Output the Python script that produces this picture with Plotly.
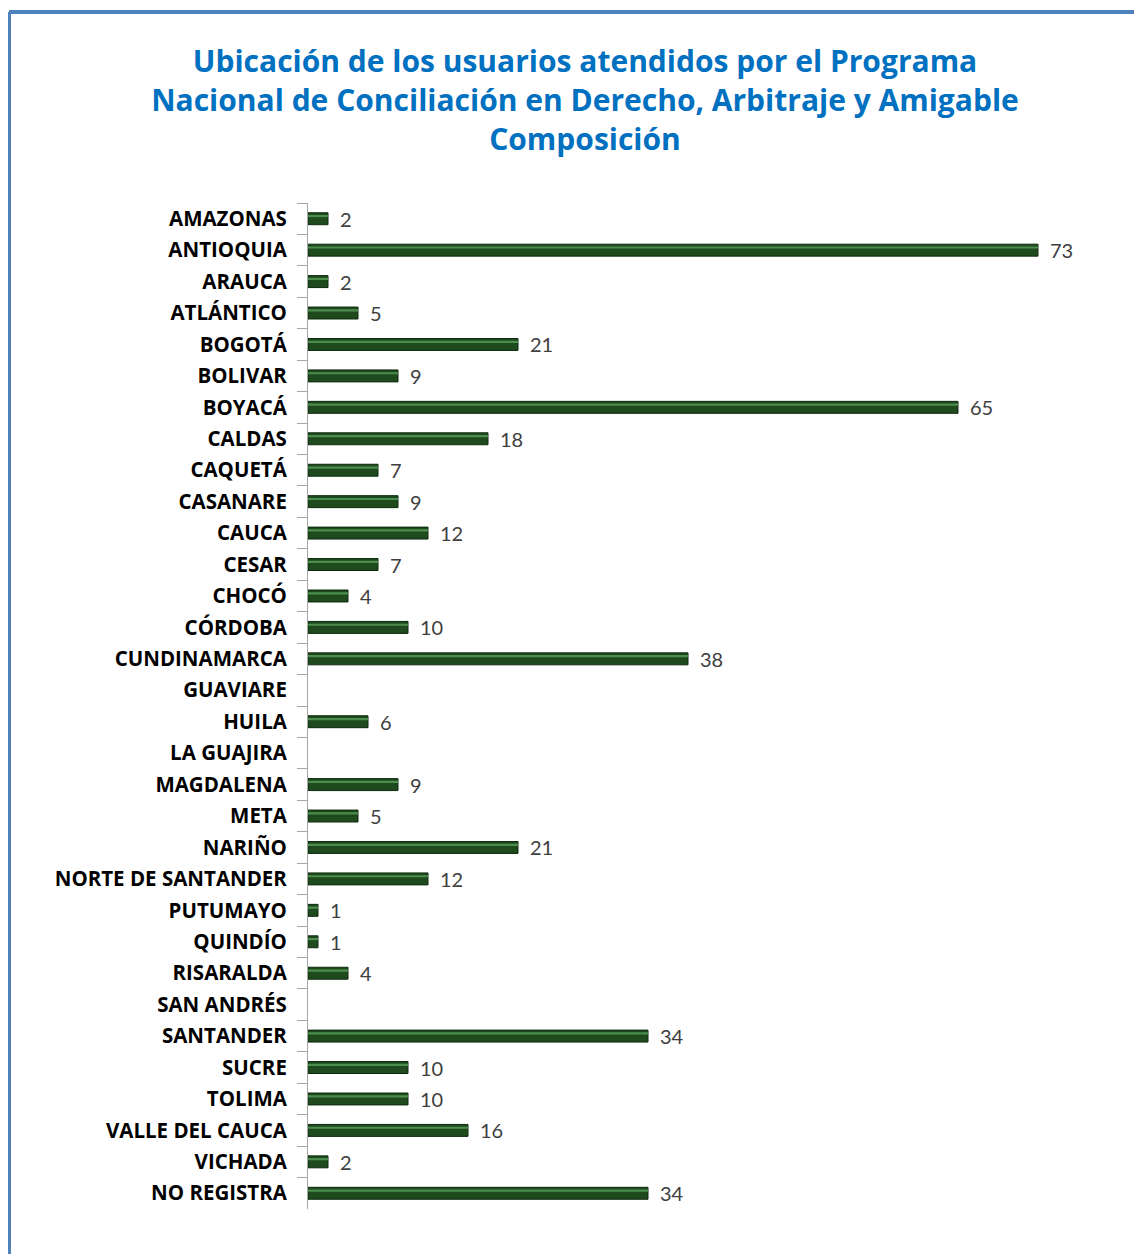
import plotly.graph_objects as go

categories = ["AMAZONAS", "ANTIOQUIA", "ARAUCA", "ATLÁNTICO", "BOGOTÁ", "BOLIVAR",
              "BOYACÁ", "CALDAS", "CAQUETÁ", "CASANARE", "CAUCA", "CESAR", "CHOCÓ",
              "CÓRDOBA", "CUNDINAMARCA", "GUAVIARE", "HUILA", "LA GUAJIRA", "MAGDALENA",
              "META", "NARIÑO", "NORTE DE SANTANDER", "PUTUMAYO", "QUINDÍO", "RISARALDA",
              "SAN ANDRÉS", "SANTANDER", "SUCRE", "TOLIMA", "VALLE DEL CAUCA", "VICHADA",
              "NO REGISTRA"]
values = [2, 73, 2, 5, 21, 9, 65, 18, 7, 9, 12, 7, 4, 10, 38, 0, 6, 0, 9, 5, 21, 12,
          1, 1, 4, 0, 34, 10, 10, 16, 2, 34]

title_lines = ["Ubicación de los usuarios atendidos por el Programa",
               "Nacional de Conciliación en Derecho, Arbitraje y Amigable",
               "Composición"]

# page has an 8px body margin; figure coordinates = page - 8
W, H = 1142, 1254
L, R, T, B = 300, 42, 195, 53
BAR_W = 0.38
PW, PH = W - L - R, H - T - B

bar_x = [v if v else None for v in values]

fig = go.Figure()
fig.add_trace(go.Bar(
    y=categories, x=bar_x, orientation="h", width=BAR_W,
    marker=dict(color="#1E4A1E", line=dict(color="#0E2A0E", width=1)),
    hoverinfo="x+y", showlegend=False,
))
# highlight stripe for the bevel look
fig.add_trace(go.Bar(
    y=categories, x=bar_x, orientation="h", width=0.07, offset=-BAR_W / 2 + 0.07,
    marker=dict(color="#4C8C4C", line=dict(width=0)),
    hoverinfo="skip", showlegend=False,
))

annotations = []
for c, v in zip(categories, values):
    if v:
        annotations.append(dict(x=v, y=c, xref="x", yref="y", text=str(v),
                                showarrow=False, xanchor="left", xshift=10,
                                font=dict(family="Lato", size=20, color="#404040")))
fig.update_layout(annotations=annotations)

by = 12 - 8
fig.update_layout(
    width=W, height=H, barmode="overlay",
    margin=dict(l=L, r=R, t=T, b=B),
    paper_bgcolor="white", plot_bgcolor="white",
    title=dict(text="<br>".join(title_lines), x=577 / W, xanchor="center",
               y=1 - 64 / H, yanchor="top", yref="container",
               font=dict(family="Open Sans", size=30, color="#0070C0", weight="bold")),
    xaxis=dict(range=[0, 80], visible=False, fixedrange=True),
    yaxis=dict(autorange="reversed", type="category", showline=True,
               linecolor="#A6A6A6", linewidth=1, ticks="outside", ticklen=10,
               tickcolor="#A6A6A6", tickson="boundaries", ticklabelstandoff=16,
               tickfont=dict(family="Open Sans", size=20.5, color="#000000", weight="bold"),
               showgrid=False, zeroline=False),
    shapes=[
        dict(type="line", xref="paper", yref="paper",
             x0=(1 - L) / PW, x1=(W - L + 5) / PW,
             y0=1 + (T - by) / PH, y1=1 + (T - by) / PH,
             line=dict(color="#4F81BD", width=4)),
        dict(type="line", xref="paper", yref="paper",
             x0=(1 - L) / PW, x1=(1 - L) / PW,
             y0=1 + (T - by) / PH, y1=-(B + 5) / PH,
             line=dict(color="#4F81BD", width=4)),
    ],
)

fig.write_html("out.html")
